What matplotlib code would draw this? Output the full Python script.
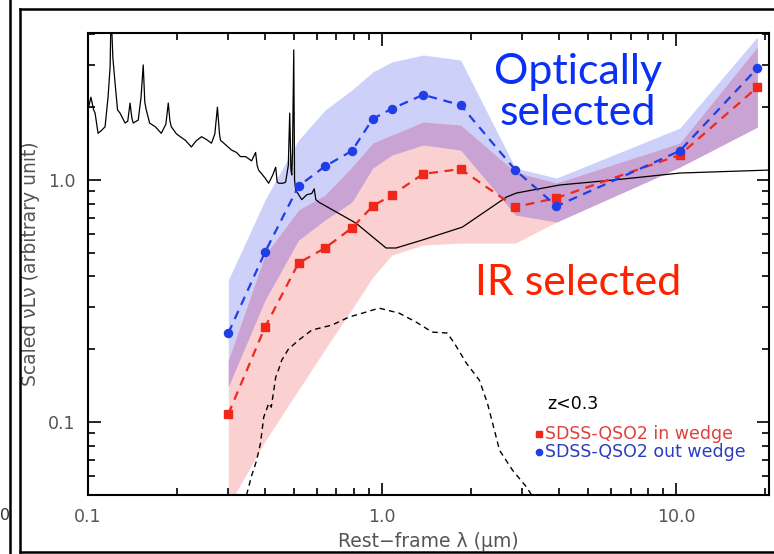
import matplotlib
matplotlib.use("Agg")
import matplotlib.pyplot as plt
import numpy as np
from matplotlib.lines import Line2D
from matplotlib.ticker import FixedLocator, FuncFormatter, LogLocator, NullFormatter

# Rest-frame wavelengths of the photometric points (micron)
wave = [0.30, 0.40, 0.52, 0.64, 0.79, 0.93, 1.08, 1.38, 1.85, 2.84, 3.92, 10.3, 18.9]

# Median SEDs
sed_in = [0.108, 0.247, 0.454, 0.524, 0.634, 0.781, 0.867, 1.06, 1.11, 0.774, 0.843, 1.27, 2.42]
sed_out = [0.233, 0.504, 0.944, 1.14, 1.32, 1.79, 1.97, 2.25, 2.04, 1.10, 0.78, 1.32, 2.90]

# Dispersion envelopes
in_lo = [0.045, 0.0834, 0.136, 0.200, 0.293, 0.397, 0.490, 0.539, 0.549, 0.549, 0.671, 1.132, 1.656]
in_hi = [0.180, 0.490, 0.752, 0.867, 1.132, 1.422, 1.534, 1.737, 1.687, 1.079, 0.972, 1.422, 3.545]
out_lo = [0.140, 0.319, 0.565, 0.684, 0.811, 1.121, 1.268, 1.395, 1.330, 0.717, 0.671, 1.132, 1.656]
out_hi = [0.386, 0.827, 1.463, 1.946, 2.355, 2.795, 3.074, 3.285, 3.133, 1.121, 1.019, 1.640, 3.90]

# Type-1 QSO template
qso_wave = [0.100, 0.1023, 0.1045, 0.1057, 0.1082, 0.1110, 0.1143, 0.1170, 0.1189, 0.1198,
            0.1215, 0.1236, 0.1260, 0.1285, 0.1337, 0.1365, 0.1390, 0.1410, 0.1425, 0.1482,
            0.1515, 0.1541, 0.1560, 0.1578, 0.1620, 0.1694, 0.1775, 0.1840, 0.1875, 0.1900,
            0.1920, 0.2000, 0.2143, 0.2247, 0.2330, 0.2432, 0.2530, 0.2630, 0.2700, 0.2755,
            0.2800, 0.2823, 0.3078, 0.3200, 0.3300, 0.3436, 0.3600, 0.3715, 0.3760, 0.3802,
            0.4000, 0.4115, 0.4250, 0.4347, 0.4400, 0.4451, 0.4600, 0.4699, 0.4800, 0.4853,
            0.4900, 0.4932, 0.4960, 0.5009, 0.5040, 0.5086, 0.5333, 0.5550, 0.5768, 0.5880,
            0.5954, 0.6100, 0.815, 1.032, 1.116, 1.369, 1.875, 2.650, 2.866, 4.018,
            6.10, 10.32, 20.9]
qso_flux = [1.95, 2.20, 1.95, 1.89, 1.56, 1.60, 1.66, 2.20, 2.93, 5.00,
            3.20, 2.52, 1.95, 1.89, 1.72, 1.75, 2.08, 1.80, 1.72, 1.77,
            2.20, 2.99, 2.10, 1.95, 1.72, 1.66, 1.56, 1.70, 2.08, 1.75,
            1.66, 1.55, 1.46, 1.37, 1.45, 1.51, 1.47, 1.42, 1.55, 2.00,
            1.55, 1.46, 1.33, 1.30, 1.25, 1.25, 1.20, 1.30, 1.15, 1.10,
            1.02, 0.97, 1.05, 1.13, 0.98, 0.97, 0.97, 0.98, 1.15, 1.89,
            1.10, 1.05, 1.30, 3.45, 1.00, 0.91, 0.83, 0.87, 0.88, 0.92,
            0.83, 0.81, 0.664, 0.524, 0.524, 0.565, 0.639, 0.851, 0.884, 0.954,
            1.00, 1.069, 1.10]

# Host galaxy template
host_wave = [0.346, 0.360, 0.372, 0.380, 0.386, 0.396, 0.404, 0.412, 0.420, 0.435,
             0.445, 0.456, 0.480, 0.521, 0.577, 0.675, 0.772, 0.882, 0.977, 1.143,
             1.306, 1.481, 1.667, 1.761, 1.935, 2.143, 2.282, 2.411, 2.508, 2.778,
             3.101, 3.225]
host_flux = [0.050, 0.060, 0.0677, 0.075, 0.0819, 0.105, 0.112, 0.1198, 0.1153, 0.1535,
             0.165, 0.1804, 0.200, 0.2183, 0.240, 0.2517, 0.2716, 0.2848, 0.2958, 0.282,
             0.259, 0.2354, 0.2333, 0.212, 0.1753, 0.149, 0.1198, 0.0926, 0.0766, 0.0633,
             0.0539, 0.050]

BLUE_BAND = "#cdd0f8"
PINK_BAND = "#fbd0d0"
OVERLAP = "#c9a3d3"
RED = "#f0281c"
BLUE = "#1f3ee8"
GREY = "#555555"

fig = plt.figure(figsize=(7.74, 5.54), dpi=100)
ax = fig.add_axes([88 / 774, 59 / 554, 681 / 774, 462 / 554])

lo_both = np.maximum(out_lo, in_lo)
hi_both = np.minimum(out_hi, in_hi)
ax.fill_between(wave, out_lo, out_hi, color=BLUE_BAND, lw=0, zorder=1)
ax.fill_between(wave, in_lo, in_hi, color=PINK_BAND, lw=0, zorder=1.1)
ax.fill_between(wave, lo_both, hi_both, color=OVERLAP, lw=0, zorder=1.2)

ax.plot(qso_wave, qso_flux, color="black", lw=0.9, zorder=3)
ax.plot(host_wave, host_flux, color="black", lw=1.0, ls=(0, (4, 3)), zorder=3)

ax.plot(wave, sed_in, color=RED, lw=1.6, ls=(0, (4, 3)), marker="s", ms=5.8, zorder=4)
ax.plot(wave, sed_out, color=BLUE, lw=1.6, ls=(0, (4, 3)), marker="o", ms=5.8, zorder=4)

ax.set_xscale("log")
ax.set_yscale("log")
ax.set_xlim(0.1, 20.7)
ax.set_ylim(0.05, 4.05)

ax.xaxis.set_major_locator(FixedLocator([0.1, 1.0, 10.0]))
ax.yaxis.set_major_locator(FixedLocator([0.1, 1.0]))
ax.xaxis.set_minor_locator(LogLocator(base=10, subs=np.arange(2, 10)))
ax.yaxis.set_minor_locator(LogLocator(base=10, subs=np.arange(2, 10)))
ax.xaxis.set_minor_formatter(NullFormatter())
ax.yaxis.set_minor_formatter(NullFormatter())
fmt = FuncFormatter(lambda v, p: f"{v:.1f}")
ax.xaxis.set_major_formatter(fmt)
ax.yaxis.set_major_formatter(fmt)
ax.tick_params(which="both", direction="in", top=True, right=True, colors="black",
               labelcolor=GREY, labelsize=12.5, width=1.2)
ax.tick_params(which="major", length=9, pad=9)
ax.tick_params(which="minor", length=5)
for s in ax.spines.values():
    s.set_linewidth(1.5)

ax.set_xlabel("Rest\u2212frame \u03bb (\u03bcm)", color=GREY, fontsize=13.5, labelpad=5)
ax.set_ylabel("Scaled \u03bdL\u03bd (arbitrary unit)", color=GREY, fontsize=13.5, labelpad=6)

ax.text(0.7195, 0.872, "Optically\nselected", transform=ax.transAxes, ha="center",
        va="center", color="#0a30f5", fontsize=31, family="Lato", linespacing=1.1, zorder=6)
ax.text(0.7195, 0.459, "IR selected", transform=ax.transAxes, ha="center", va="center",
        color="#ff2200", fontsize=31, family="Lato", zorder=6)

ax.text(0.674, 0.197, "z<0.3", transform=ax.transAxes, ha="left", va="center",
        color="black", fontsize=12.5, zorder=6)
ax.plot([0.662], [0.132], transform=ax.transAxes, marker="s", ms=4.5, color=RED, ls="none",
        zorder=6, clip_on=False)
ax.text(0.671, 0.132, "SDSS-QSO2 in wedge", transform=ax.transAxes, ha="left", va="center",
        color="#e0403a", fontsize=12.5, zorder=6)
ax.plot([0.662], [0.093], transform=ax.transAxes, marker="o", ms=4.5, color=BLUE, ls="none",
        zorder=6, clip_on=False)
ax.text(0.671, 0.093, "SDSS-QSO2 out wedge", transform=ax.transAxes, ha="left", va="center",
        color="#2a3cc0", fontsize=12.5, zorder=6)

# Slide border around the figure
W, H = 774.0, 554.0
def fline(x0, y0, x1, y1, lw=1.8):
    fig.add_artist(Line2D([x0 / W, x1 / W], [1 - y0 / H, 1 - y1 / H],
                          transform=fig.transFigure, color="black", lw=lw))
fline(20, 9, 774, 9)
fline(20, 9, 20, 552)
fline(20, 552, 774, 552)
fline(10, 0, 10, 554)
fig.text(0.0, 1 - 515 / H, "0", ha="left", va="center", fontsize=11.5, color="#333333")

fig.savefig("out.png", dpi=100)
